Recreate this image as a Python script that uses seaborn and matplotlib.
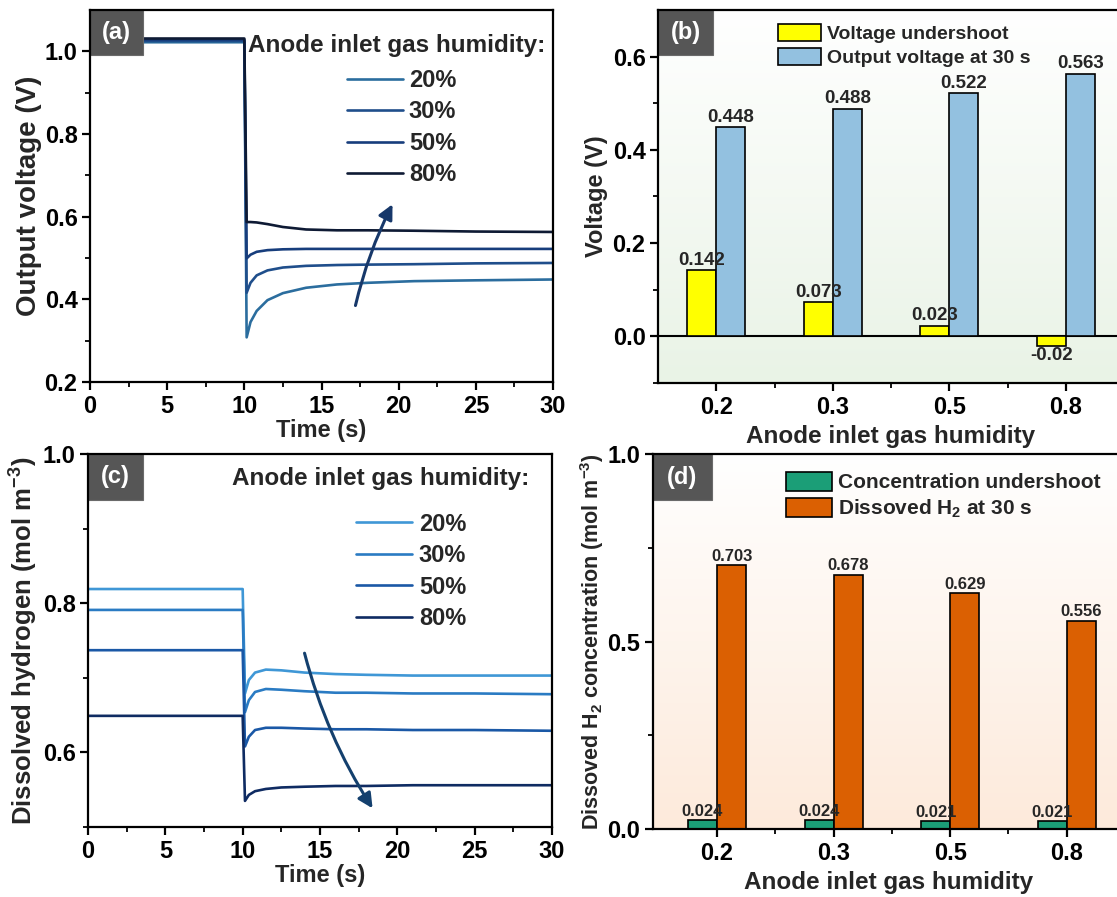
import numpy as np
import pandas as pd
import matplotlib
matplotlib.use("Agg")
import matplotlib.pyplot as plt
import seaborn as sns
from matplotlib.lines import Line2D
from matplotlib.patches import Patch, Rectangle
from matplotlib.colors import LinearSegmentedColormap
from matplotlib.ticker import MultipleLocator, FixedLocator

# ---------------- data ----------------
humidity_labels = ["20%", "30%", "50%", "80%"]
humidity_cats = ["0.2", "0.3", "0.5", "0.8"]

time_s = [0, 10, 10.15, 10.4, 10.8, 11.5, 12.5, 14, 16, 18, 21, 25, 30]

voltage_20 = [1.022, 1.022, 0.308, 0.345, 0.372, 0.398, 0.415, 0.428, 0.436, 0.440, 0.444, 0.446, 0.448]
voltage_30 = [1.025, 1.025, 0.416, 0.440, 0.458, 0.470, 0.477, 0.481, 0.483, 0.484, 0.485, 0.487, 0.488]
voltage_50 = [1.028, 1.028, 0.499, 0.508, 0.515, 0.519, 0.521, 0.522, 0.522, 0.522, 0.522, 0.522, 0.522]
voltage_80 = [1.031, 1.031, 0.587, 0.587, 0.586, 0.582, 0.575, 0.569, 0.567, 0.567, 0.566, 0.564, 0.563]

h2_20 = [0.819, 0.819, 0.679, 0.697, 0.707, 0.711, 0.710, 0.707, 0.705, 0.704, 0.703, 0.703, 0.703]
h2_30 = [0.791, 0.791, 0.654, 0.670, 0.681, 0.685, 0.684, 0.682, 0.680, 0.680, 0.679, 0.679, 0.678]
h2_50 = [0.737, 0.737, 0.608, 0.621, 0.630, 0.633, 0.633, 0.632, 0.631, 0.631, 0.630, 0.630, 0.629]
h2_80 = [0.649, 0.649, 0.535, 0.543, 0.548, 0.551, 0.553, 0.554, 0.555, 0.555, 0.556, 0.556, 0.556]

voltage_undershoot = [0.142, 0.073, 0.023, -0.02]
voltage_at_30s = [0.448, 0.488, 0.522, 0.563]

conc_undershoot = [0.024, 0.024, 0.021, 0.021]
h2_at_30s = [0.703, 0.678, 0.629, 0.556]

# ---------------- style ----------------
sns.set_theme(style="ticks")
plt.rcParams["font.family"] = ["Liberation Sans", "DejaVu Sans"]
plt.rcParams["font.weight"] = "bold"
plt.rcParams["axes.labelweight"] = "bold"
plt.rcParams["mathtext.fontset"] = "custom"
plt.rcParams["mathtext.rm"] = "Liberation Sans:bold"
plt.rcParams["mathtext.it"] = "Liberation Sans:bold"
plt.rcParams["mathtext.bf"] = "Liberation Sans:bold"
plt.rcParams["mathtext.default"] = "rm"
plt.rcParams["axes.linewidth"] = 1.6
plt.rcParams["xtick.major.width"] = 1.6
plt.rcParams["ytick.major.width"] = 1.6
plt.rcParams["xtick.minor.width"] = 1.3
plt.rcParams["ytick.minor.width"] = 1.3
plt.rcParams["xtick.major.size"] = 6
plt.rcParams["ytick.major.size"] = 6
plt.rcParams["xtick.minor.size"] = 3.5
plt.rcParams["ytick.minor.size"] = 3.5
plt.rcParams["xtick.color"] = "black"
plt.rcParams["ytick.color"] = "black"
plt.rcParams["axes.edgecolor"] = "black"

TICK_FS = 17

fig = plt.figure(figsize=(11.17, 8.97), dpi=100)
W, H = 1117, 897


def add_axes_px(left, top, right, bottom):
    return fig.add_axes([left / W, 1 - bottom / H, (right - left) / W, (bottom - top) / H])


ax_a = add_axes_px(90, 10, 553, 382)
ax_b = add_axes_px(658, 10, 1124, 383)
ax_c = add_axes_px(88, 454, 552, 827)
ax_d = add_axes_px(653, 454, 1125, 829)


def panel_tag(ax, text, w_px, h_px):
    bb = ax.get_position()
    w = w_px / (bb.width * W)
    h = h_px / (bb.height * H)
    ax.add_patch(Rectangle((0, 1 - h), w, h, transform=ax.transAxes,
                           facecolor="#565656", edgecolor="#6a6a6a", lw=0.8,
                           zorder=10, clip_on=False))
    ax.text(w / 2, 1 - h / 2, text, transform=ax.transAxes, color="white",
            fontsize=17, fontweight="bold", ha="center", va="center", zorder=11)


def style_ticks(ax):
    ax.tick_params(axis="both", which="both", direction="out", top=False, right=False,
                   labelsize=TICK_FS, pad=3)
    for lab in ax.get_xticklabels() + ax.get_yticklabels():
        lab.set_fontweight("bold")


# ---------------- (a) output voltage ----------------
colors_a = ["#2b6d9e", "#1f4e8b", "#173d7c", "#0e1a34"]
volt_series = [voltage_20, voltage_30, voltage_50, voltage_80]
for vals, c in zip(volt_series, colors_a):
    sns.lineplot(x=time_s, y=vals, ax=ax_a, color=c, lw=1.9, estimator=None,
                 sort=False, legend=False)
ax_a.set_xlim(0, 30)
ax_a.set_ylim(0.2, 1.1)
ax_a.xaxis.set_major_locator(MultipleLocator(5))
ax_a.xaxis.set_minor_locator(MultipleLocator(2.5))
ax_a.yaxis.set_major_locator(FixedLocator([0.2, 0.4, 0.6, 0.8, 1.0]))
ax_a.yaxis.set_minor_locator(FixedLocator([0.3, 0.5, 0.7, 0.9]))
ax_a.set_xlabel("Time (s)", fontsize=17, labelpad=1)
ax_a.set_ylabel("Output voltage (V)", fontsize=20, labelpad=2)
style_ticks(ax_a)
ax_a.text(0.341, 0.905, "Anode inlet gas humidity:", transform=ax_a.transAxes,
          fontsize=17.5, fontweight="bold", ha="left", va="center")
handles_a = [Line2D([], [], color=c, lw=1.9) for c in colors_a]
ax_a.legend(handles_a, humidity_labels, loc="upper left", bbox_to_anchor=(0.556, 0.842),
            frameon=False, handlelength=2.35, handletextpad=0.25,
            labelspacing=0.36, borderpad=0, borderaxespad=0,
            prop={"weight": "bold", "size": 17})
ax_a.annotate("", xy=(19.6, 0.63), xytext=(17.2, 0.385),
              arrowprops=dict(arrowstyle="-|>", color="#17386a", lw=2.2,
                              mutation_scale=22, connectionstyle="arc3,rad=-0.06",
                              shrinkA=0, shrinkB=0))
panel_tag(ax_a, "(a)", 53, 45)

# ---------------- (c) dissolved hydrogen ----------------
colors_c = ["#3f97d6", "#2a7bc3", "#1a58a6", "#0f2b62"]
h2_series = [h2_20, h2_30, h2_50, h2_80]
for vals, c in zip(h2_series, colors_c):
    sns.lineplot(x=time_s, y=vals, ax=ax_c, color=c, lw=1.9, estimator=None,
                 sort=False, legend=False)
ax_c.set_xlim(0, 30)
ax_c.set_ylim(0.5, 1.0)
ax_c.xaxis.set_major_locator(MultipleLocator(5))
ax_c.xaxis.set_minor_locator(MultipleLocator(2.5))
ax_c.yaxis.set_major_locator(FixedLocator([0.6, 0.8, 1.0]))
ax_c.yaxis.set_minor_locator(FixedLocator([0.5, 0.7, 0.9]))
ax_c.set_xlabel("Time (s)", fontsize=17, labelpad=1)
ax_c.set_ylabel("Dissolved hydrogen (mol m$^{-3}$)", fontsize=18.5, labelpad=2)
style_ticks(ax_c)
ax_c.text(0.31, 0.933, "Anode inlet gas humidity:", transform=ax_c.transAxes,
          fontsize=17.5, fontweight="bold", ha="left", va="center")
handles_c = [Line2D([], [], color=c, lw=1.9) for c in colors_c]
ax_c.legend(handles_c, humidity_labels, loc="upper left", bbox_to_anchor=(0.578, 0.843),
            frameon=False, handlelength=2.35, handletextpad=0.3,
            labelspacing=0.36, borderpad=0, borderaxespad=0,
            prop={"weight": "bold", "size": 17})
ax_c.annotate("", xy=(18.4, 0.525), xytext=(14.0, 0.733),
              arrowprops=dict(arrowstyle="-|>", color="#14406e", lw=2.2,
                              mutation_scale=22, connectionstyle="arc3,rad=0.08",
                              shrinkA=0, shrinkB=0))
panel_tag(ax_c, "(c)", 55, 46)


# ---------------- bar panels ----------------
def gradient_bg(ax, bottom_color):
    cmap = LinearSegmentedColormap.from_list("bg", [bottom_color, "#ffffff"])
    grad = np.linspace(0, 1, 256).reshape(-1, 1)
    ax.imshow(grad, cmap=cmap, extent=[0, 1, 0, 1], transform=ax.transAxes,
              aspect="auto", origin="lower", zorder=0, interpolation="bilinear")


def bar_panel(ax, first, second, names, colors, ylim, label_fs, legend_fs,
              legend_anchor):
    df = pd.DataFrame({
        "humidity": humidity_cats * 2,
        "value": list(first) + list(second),
        "metric": [names[0]] * 4 + [names[1]] * 4,
    })
    sns.barplot(data=df, x="humidity", y="value", hue="metric",
                palette=dict(zip(names, colors)), saturation=1, width=0.5,
                edgecolor="black", linewidth=1.2, ax=ax, legend=False, zorder=3)
    for cont in ax.containers:
        vals = [b.get_height() for b in cont]
        ax.bar_label(cont, labels=[f"{v:g}" for v in vals], padding=1,
                     fontsize=label_fs, fontweight="bold", zorder=4)
    ax.set_ylim(*ylim)
    handles = [Patch(facecolor=c, edgecolor="black", lw=1.2) for c in colors]
    ax.legend(handles, names, loc="upper left", bbox_to_anchor=legend_anchor,
              frameon=False, handlelength=2.2, handleheight=1.0, handletextpad=0.3,
              labelspacing=0.25, borderpad=0, borderaxespad=0,
              prop={"weight": "bold", "size": legend_fs})
    ax.xaxis.set_minor_locator(FixedLocator([0.5, 1.5, 2.5]))
    ax.set_xlabel("Anode inlet gas humidity", fontsize=17.5, labelpad=5)
    ax.spines["right"].set_visible(False)
    style_ticks(ax)


# (b) voltage bars
gradient_bg(ax_b, "#e9f3e6")
bar_panel(ax_b, voltage_undershoot, voltage_at_30s,
          ["Voltage undershoot", "Output voltage at 30 s"],
          ["#ffff00", "#93c1e0"], (-0.1, 0.7), 13.5, 14, (0.258, 0.963))
ax_b.axhline(0, color="black", lw=1.5, zorder=2)
ax_b.set_xlim(-0.5, 3.5)
ax_b.yaxis.set_major_locator(FixedLocator([0.0, 0.2, 0.4, 0.6]))
ax_b.yaxis.set_minor_locator(FixedLocator([-0.1, 0.1, 0.3, 0.5]))
ax_b.set_ylabel("Voltage (V)", fontsize=17, labelpad=3)
style_ticks(ax_b)
panel_tag(ax_b, "(b)", 55, 45)

# (d) hydrogen bars
gradient_bg(ax_d, "#fdeadb")
bar_panel(ax_d, conc_undershoot, h2_at_30s,
          ["Concentration undershoot", "Dissoved H$_2$ at 30 s"],
          ["#1b9e77", "#db6002"], (0.0, 1.0), 12, 15, (0.282, 0.952))
ax_d.set_xlim(-0.55, 3.5)
ax_d.yaxis.set_major_locator(FixedLocator([0.0, 0.5, 1.0]))
ax_d.yaxis.set_minor_locator(FixedLocator([0.25, 0.75]))
ax_d.set_ylabel("Dissoved H$_2$ concentration (mol m$^{-3}$)", fontsize=15.5, labelpad=1)
style_ticks(ax_d)
panel_tag(ax_d, "(d)", 59, 46)

for ax in (ax_a, ax_b, ax_c, ax_d):
    for s in ax.spines.values():
        s.set_zorder(20)

fig.savefig("out.png", dpi=100)
